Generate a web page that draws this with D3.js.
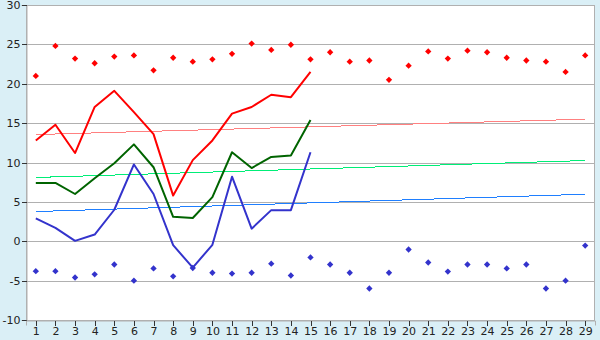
<!DOCTYPE html>
<html>
<head>
<meta charset="utf-8">
<script src="https://cdn.jsdelivr.net/npm/d3@7"></script>
<style>
  body { margin: 0; background: #daeff6; }
  svg { display: block; }
  text { font-family: "DejaVu Sans", Verdana, sans-serif; font-size: 11px; fill: #222; }
</style>
</head>
<body>
<div id="chart"></div>
<script>
// days of the month
var days = [1,2,3,4,5,6,7,8,9,10,11,12,13,14,15,16,17,18,19,20,21,22,23,24,25,26,27,28,29];

// measured so far (days 1..15)
var tMax  = [12.8,14.8,11.2,17.05,19.1,16.4,13.6,5.8,10.3,12.8,16.2,17.05,18.6,18.3,21.5];
var tMean = [7.4,7.4,6.0,8.0,9.9,12.3,9.4,3.1,2.95,5.6,11.3,9.3,10.7,10.9,15.4];
var tMin  = [2.9,1.7,0.05,0.85,4.0,9.75,6.0,-0.5,-3.35,-0.45,8.2,1.6,3.95,3.95,11.3];

// records for every day
var recMax = [21.0,24.8,23.2,22.6,23.45,23.6,21.7,23.3,22.8,23.1,23.8,25.1,24.3,24.95,23.1,
              24.0,22.8,22.95,20.5,22.3,24.1,23.2,24.2,24.0,23.3,22.95,22.8,21.5,23.6];
var recMin = [-3.8,-3.8,-4.6,-4.2,-2.95,-5.0,-3.45,-4.45,-3.4,-4.0,-4.1,-4.0,-2.85,-4.35,-2.05,
              -2.95,-4.0,-6.0,-4.0,-1.05,-2.7,-3.85,-2.95,-2.95,-3.45,-2.95,-6.0,-5.0,-0.55];

// normals, value at day 1 and at day 29
var normDays = [1, 29];
var normMax  = [13.55, 15.5];
var normMean = [8.1, 10.25];
var normMin  = [3.77, 5.97];

var yTicks = [-10,-5,0,5,10,15,20,25,30];

// plot box (note: "top" is taken by window.top)
var W = 600, H = 340,
    pL = 26, pR = 595, pT = 5, pB = 320;

var svg = d3.select("#chart").append("svg")
    .attr("width", W).attr("height", H);

var x = d3.scalePoint().domain(days).range([pL, pR]).padding(0.5);
var y = d3.scaleLinear().domain([-10, 30]).range([pB, pT]);

// plot area
svg.append("rect")
    .attr("x", pL).attr("y", pT)
    .attr("width", pR - pL).attr("height", pB - pT)
    .attr("fill", "#fff");

// grid
svg.append("g").selectAll("line").data(yTicks).enter().append("line")
    .attr("x1", pL).attr("x2", pR)
    .attr("y1", function(d) { return Math.round(y(d)) + 0.5; })
    .attr("y2", function(d) { return Math.round(y(d)) + 0.5; })
    .attr("stroke", "#b0b0b0")
    .attr("shape-rendering", "crispEdges");

svg.append("rect")
    .attr("x", pL + 0.5).attr("y", pT + 0.5)
    .attr("width", pR - pL - 1).attr("height", pB - pT)
    .attr("fill", "none").attr("stroke", "#b0b0b0")
    .attr("shape-rendering", "crispEdges");

// axes
var yAxis = svg.append("g")
    .attr("transform", "translate(" + (pL + 0.5) + ",0)")
    .call(d3.axisLeft(y).tickValues(yTicks).tickSize(5).tickPadding(1)
        .tickFormat(function(d) { return String(d); }));
var xAxis = svg.append("g")
    .attr("transform", "translate(0," + (pB + 0.5) + ")")
    .call(d3.axisBottom(x).tickSize(5).tickPadding(2));
[yAxis, xAxis].forEach(function(a) {
  a.select(".domain").attr("stroke", "#b0b0b0");
  a.selectAll(".tick line").attr("stroke", "#333").attr("shape-rendering", "crispEdges");
  a.selectAll("text").attr("font-family", "DejaVu Sans, Verdana, sans-serif")
      .attr("font-size", 11).attr("fill", "#222");
});

// normal trend lines
var trend = d3.line()
    .x(function(d) { return x(d[0]); })
    .y(function(d) { return y(d[1]); });
[[normMax, "#ff8080"], [normMean, "#00ee77"], [normMin, "#1f7fff"]].forEach(function(s) {
  svg.append("path")
      .datum(normDays.map(function(d, i) { return [d, s[0][i]]; }))
      .attr("d", trend)
      .attr("fill", "none")
      .attr("stroke", s[1])
      .attr("stroke-width", 1)
      .attr("shape-rendering", "crispEdges");
});

// measured lines
var line = d3.line()
    .x(function(d, i) { return x(days[i]); })
    .y(function(d) { return y(d); });
[[tMax, "#ff0000"], [tMean, "#006400"], [tMin, "#3333cc"]].forEach(function(s) {
  svg.append("path")
      .datum(s[0])
      .attr("d", line)
      .attr("fill", "none")
      .attr("stroke", s[1])
      .attr("stroke-width", 2)
      .attr("stroke-linejoin", "round");
});

// record markers
var sym = d3.symbol().type(d3.symbolSquare).size(20);
[[recMax, "#ff0000"], [recMin, "#3333cc"]].forEach(function(s) {
  svg.append("g").selectAll("path").data(s[0]).enter().append("path")
      .attr("d", sym)
      .attr("fill", s[1])
      .attr("transform", function(d, i) {
        return "translate(" + x(days[i]) + "," + y(d) + ") rotate(45)";
      });
});
</script>
</body>
</html>
